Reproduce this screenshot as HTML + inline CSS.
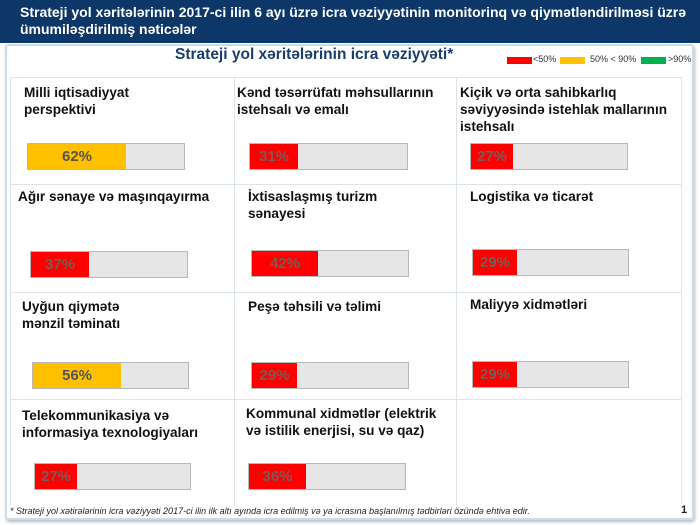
<!DOCTYPE html>
<html><head><meta charset="utf-8"><style>
*{margin:0;padding:0;box-sizing:border-box}
body{width:700px;height:525px;background:#fff;position:relative;overflow:hidden;font-family:"Liberation Sans",Arial,sans-serif}
.hdr{position:absolute;left:0;top:0;width:700px;height:43px;background:#0d3768;color:#fff;font-weight:bold;font-size:14px;line-height:17px;padding:4px 0 0 20px;white-space:nowrap}
.panel{position:absolute;left:5px;top:44px;width:689px;height:476px;border:2px solid #c9dced;border-radius:3px;box-shadow:1px 2px 3px #bbb}
.t{position:absolute;left:175px;top:46px;font-size:15.5px;font-weight:bold;color:#1a3d6e}
.ln{position:absolute;background:#dde3ea}
.lb{position:absolute;font-size:13.6px;font-weight:bold;line-height:17px;color:#111;white-space:nowrap}
.bar{position:absolute;height:27px;background:#e6e6e6;border:1px solid #b8b8b8}
.f{position:absolute;left:0;top:0;bottom:0;background:#ff0000;text-align:center;font-size:15px;font-weight:bold;line-height:25px;color:#7a5a5a;white-space:nowrap;overflow:visible}
.f.y{background:#ffc000;color:#555}
.lg{position:absolute;top:57px;height:7px;width:25px}
.lt{position:absolute;top:54px;font-size:9px;color:#333}
.fn{position:absolute;left:10px;top:506px;font-size:9px;font-style:italic;color:#222;white-space:nowrap}
</style></head><body>
<div class="hdr">Strateji yol xəritələrinin 2017-ci ilin 6 ayı üzrə icra vəziyyətinin monitorinq və qiymətləndirilməsi üzrə<br>ümumiləşdirilmiş nəticələr</div>
<div class="panel"></div>
<div class="t">Strateji yol xəritələrinin icra vəziyyəti*</div>
<div class="lg" style="left:507px;background:#ff0000"></div><div class="lt" style="left:533px">&lt;50%</div>
<div class="lg" style="left:560px;background:#ffc000"></div><div class="lt" style="left:590px">50% &lt; 90%</div>
<div class="lg" style="left:641px;background:#00b050"></div><div class="lt" style="left:668px">&gt;90%</div>

<div class="ln" style="left:10px;top:77px;width:672px;height:1px"></div>
<div class="ln" style="left:10px;top:184px;width:672px;height:1px"></div>
<div class="ln" style="left:10px;top:292px;width:672px;height:1px"></div>
<div class="ln" style="left:10px;top:399px;width:672px;height:1px"></div>
<div class="ln" style="left:10px;top:77px;width:1px;height:428px"></div>
<div class="ln" style="left:234px;top:77px;width:1px;height:428px"></div>
<div class="ln" style="left:456px;top:77px;width:1px;height:428px"></div>
<div class="ln" style="left:681px;top:77px;width:1px;height:428px"></div>

<div class="lb" style="left:24px;top:84px">Milli iqtisadiyyat<br>perspektivi</div>
<div class="lb" style="left:237px;top:84px">Kənd təsərrüfatı məhsullarının<br>istehsalı və emalı</div>
<div class="lb" style="left:460px;top:84px">Kiçik və orta sahibkarlıq<br>səviyyəsində istehlak mallarının<br>istehsalı</div>
<div class="lb" style="left:18px;top:188px">Ağır sənaye və maşınqayırma</div>
<div class="lb" style="left:248px;top:188px">İxtisaslaşmış turizm<br>sənayesi</div>
<div class="lb" style="left:470px;top:188px">Logistika və ticarət</div>
<div class="lb" style="left:22px;top:298px">Uyğun qiymətə<br>mənzil təminatı</div>
<div class="lb" style="left:248px;top:298px">Peşə təhsili və təlimi</div>
<div class="lb" style="left:470px;top:296px">Maliyyə xidmətləri</div>
<div class="lb" style="left:22px;top:407px">Telekommunikasiya və<br>informasiya texnologiyaları</div>
<div class="lb" style="left:246px;top:405px">Kommunal xidmətlər (elektrik<br>və istilik enerjisi, su və qaz)</div>

<div class="bar" style="left:27px;top:143px;width:158px"><div class="f y" style="width:98px">62%</div></div>
<div class="bar" style="left:249px;top:143px;width:159px"><div class="f" style="width:48px">31%</div></div>
<div class="bar" style="left:470px;top:143px;width:158px"><div class="f" style="width:42px">27%</div></div>
<div class="bar" style="left:30px;top:251px;width:158px"><div class="f" style="width:58px">37%</div></div>
<div class="bar" style="left:251px;top:250px;width:158px"><div class="f" style="width:66px">42%</div></div>
<div class="bar" style="left:472px;top:249px;width:157px"><div class="f" style="width:44px">29%</div></div>
<div class="bar" style="left:32px;top:362px;width:157px"><div class="f y" style="width:88px">56%</div></div>
<div class="bar" style="left:251px;top:362px;width:158px"><div class="f" style="width:45px">29%</div></div>
<div class="bar" style="left:472px;top:361px;width:157px"><div class="f" style="width:44px">29%</div></div>
<div class="bar" style="left:34px;top:463px;width:157px"><div class="f" style="width:42px">27%</div></div>
<div class="bar" style="left:248px;top:463px;width:158px"><div class="f" style="width:57px">36%</div></div>

<div class="fn">* Strateji yol xətirələrinin icra vəziyyəti 2017-ci ilin ilk altı ayında icra edilmiş və ya icrasına başlanılmış tədbirləri özündə ehtiva edir.</div>
<div style="position:absolute;left:681px;top:504px;font-size:11px;font-weight:bold;color:#222">1</div>
</body></html>
